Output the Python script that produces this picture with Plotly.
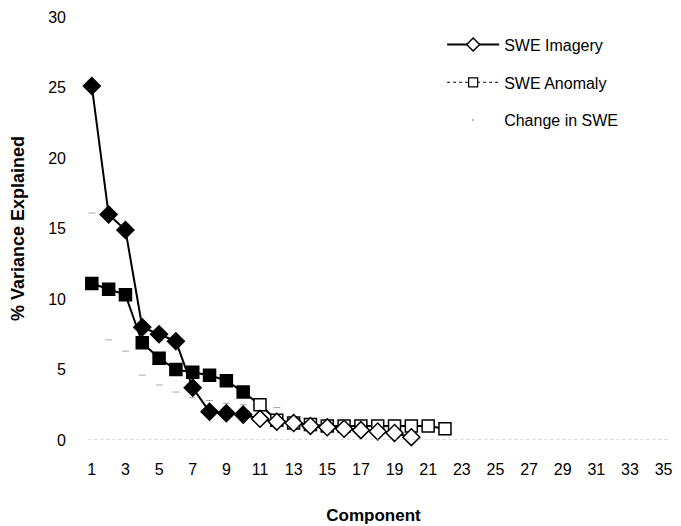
import plotly.graph_objects as go

components_img = list(range(1, 21))
swe_imagery = [25.1, 16.0, 14.9, 8.0, 7.5, 7.0, 3.7, 2.0, 1.9, 1.8,
               1.5, 1.3, 1.2, 1.0, 0.9, 0.8, 0.7, 0.6, 0.5, 0.2]

components_anom = list(range(1, 23))
swe_anomaly = [11.1, 10.7, 10.3, 6.9, 5.8, 5.0, 4.8, 4.6, 4.2, 3.4,
               2.5, 1.4, 1.2, 1.1, 1.0, 1.0, 1.0, 1.0, 1.0, 1.0, 1.0, 0.8]

components_chg = list(range(1, 13))
change_swe = [16.1, 7.1, 6.3, 4.6, 3.9, 3.4, 3.0, 2.8, 2.6, 2.5, 2.4, 2.3]

x_ticks = list(range(1, 36, 2))
y_ticks = [0, 5, 10, 15, 20, 25, 30]

FONT = "Liberation Sans, Arial, sans-serif"


def fills(n, n_filled):
    return ["black" if i < n_filled else "white" for i in range(n)]


fig = go.Figure()

fig.add_trace(go.Scatter(
    x=components_chg, y=change_swe, mode="markers",
    marker=dict(symbol="line-ew", size=5, line=dict(color="#a8a8a8", width=1)),
    showlegend=False, cliponaxis=False))

fig.add_trace(go.Scatter(
    x=components_anom, y=swe_anomaly, mode="lines+markers",
    line=dict(color="black", width=2),
    marker=dict(symbol="square", size=12, color=fills(len(swe_anomaly), 10),
                line=dict(color="black", width=1.5)),
    showlegend=False, cliponaxis=False))

fig.add_trace(go.Scatter(
    x=components_img, y=swe_imagery, mode="lines+markers",
    line=dict(color="black", width=2),
    marker=dict(symbol="diamond", size=13, color=fills(len(swe_imagery), 10),
                line=dict(color="black", width=1.5)),
    showlegend=False, cliponaxis=False))

# Legend-only entries
fig.add_trace(go.Scatter(
    x=[None], y=[None], mode="lines+markers", name="SWE Imagery",
    legendgroup="a",
    line=dict(color="black", width=2),
    marker=dict(symbol="diamond", size=10, color="white", line=dict(color="black", width=1.5))))
fig.add_trace(go.Scatter(
    x=[None], y=[None], mode="lines+markers", name="SWE Anomaly",
    legendgroup="b",
    line=dict(color="black", width=1, dash="dot"),
    marker=dict(symbol="square", size=9, color="white", line=dict(color="black", width=1.2))))
fig.add_trace(go.Scatter(
    x=[None], y=[None], mode="markers", name="Change in SWE",
    legendgroup="c",
    marker=dict(symbol="circle", size=2, color="#9a9a9a")))

fig.update_layout(
    width=681, height=526,
    margin=dict(l=75, r=9, t=17, b=86),
    paper_bgcolor="white", plot_bgcolor="white",
    font=dict(family=FONT, size=16, color="black"),
    xaxis=dict(
        range=[0, 35.5], tickmode="array", tickvals=x_ticks,
        ticktext=[str(v) for v in x_ticks], automargin=False,
        showgrid=False, zeroline=False, showline=False,
        ticks="", ticklabelstandoff=18, tickfont=dict(size=16),
        title=dict(text="<b>Component</b>", font=dict(size=17), standoff=32)),
    yaxis=dict(
        range=[0, 30], tickmode="array", tickvals=y_ticks, automargin=False,
        showgrid=False, zeroline=False, showline=False,
        ticks="", ticklabelstandoff=8, tickfont=dict(size=16),
        title=dict(text="<b>% Variance Explained</b>", font=dict(size=18), standoff=18)),
    legend=dict(
        x=0.615, y=0.975, xanchor="left", yanchor="top",
        font=dict(size=16), tracegroupgap=14, bgcolor="rgba(0,0,0,0)",
        itemwidth=52),
)

fig.add_shape(type="line", xref="x", yref="y", x0=0.8, x1=35.3, y0=0, y1=0,
              line=dict(color="#b0b0b0", width=1, dash="dot"))

fig.write_html("out.html")
